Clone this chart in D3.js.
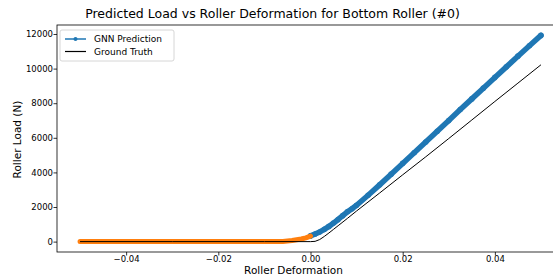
<!DOCTYPE html>
<html>
<head>
<meta charset="utf-8">
<script src="https://cdn.jsdelivr.net/npm/d3@7"></script>
<style>
  body { margin: 0; background: #fff; }
  svg { display: block; font-family: "DejaVu Sans", sans-serif; }
</style>
</head>
<body>
<svg id="chart" width="553" height="277"></svg>
<script>
// deformation / load values
var gtDef  = [-0.05, -0.03, -0.01, 0.0, 0.001, 0.002, 0.003, 0.004, 0.005, 0.006, 0.008, 0.010, 0.015, 0.020, 0.025, 0.030, 0.035, 0.040, 0.045, 0.050];
var gtLoad = [0, 0, 0, 0, 15, 120, 300, 500, 710, 920, 1340, 1770, 2810, 3860, 4900, 5960, 7030, 8100, 9160, 10220];

// prediction for positive deformation
var gnnDef  = [0.0, 0.001, 0.002, 0.003, 0.004, 0.005, 0.006, 0.007, 0.008, 0.009, 0.010, 0.0125, 0.015, 0.0175, 0.020, 0.0225, 0.025, 0.0275, 0.030, 0.0325, 0.035, 0.0375, 0.040, 0.0425, 0.045, 0.0475, 0.050];
var gnnLoad = [330, 440, 560, 710, 880, 1070, 1280, 1500, 1720, 1900, 2100, 2680, 3280, 3900, 4520, 5140, 5760, 6380, 7000, 7630, 8250, 8870, 9490, 10100, 10720, 11320, 11920];

// prediction for negative deformation (orange)
var negDef  = [-0.05, -0.04, -0.03, -0.02, -0.01, -0.006, -0.004, -0.002, -0.001, 0.0];
var negLoad = [0, 0, 0, 0, 0, 10, 60, 150, 220, 320];

var xTicks = [-0.04, -0.02, 0.00, 0.02, 0.04];
var yTicks = [0, 2000, 4000, 6000, 8000, 10000, 12000];

var svg = d3.select("#chart");
var mLeft = 57, mRight = 564, mTop = 25, mBottom = 252;

var x = d3.scaleLinear().domain([-0.055, 0.055]).range([mLeft, mRight]);
var y = d3.scaleLinear().domain([-600, 12520]).range([mBottom, mTop]);

// axes
var xAxis = svg.append("g")
  .attr("transform", "translate(0," + mBottom + ")")
  .call(d3.axisBottom(x).tickValues(xTicks).tickFormat(d3.format(".2f")).tickSizeOuter(0).tickSize(3.5));
var yAxis = svg.append("g")
  .attr("transform", "translate(" + mLeft + ",0)")
  .call(d3.axisLeft(y).tickValues(yTicks).tickFormat(d3.format("d")).tickSizeOuter(0).tickSize(3.5).tickPadding(0.5));
[xAxis, yAxis].forEach(function(a) {
  a.selectAll("text").style("font-size", "8.5px").attr("fill", "#000")
    .style("font-family", "DejaVu Sans, sans-serif");
  a.selectAll("line").attr("stroke", "#000").attr("stroke-width", 0.8);
  a.select(".domain").remove();
});
xAxis.selectAll("text").attr("y", 4)
  .text(function(d) { return d3.format(".2f")(d).replace("-", "\u2212"); });

// spines
svg.append("rect").attr("x", mLeft).attr("y", mTop)
  .attr("width", mRight - mLeft).attr("height", mBottom - mTop)
  .attr("fill", "none").attr("stroke", "#000").attr("stroke-width", 0.8);

svg.append("clipPath").attr("id", "clip").append("rect")
  .attr("x", mLeft).attr("y", mTop).attr("width", mRight - mLeft).attr("height", mBottom - mTop);
var plot = svg.append("g").attr("clip-path", "url(#clip)");

var line = d3.line().x(function(d) { return x(d[0]); }).y(function(d) { return y(d[1]); });

var gnn = d3.zip(gnnDef, gnnLoad);
plot.append("path").datum(gnn).attr("d", line)
  .attr("fill", "none").attr("stroke", "#1f77b4").attr("stroke-width", 5.5)
  .attr("stroke-linejoin", "round").attr("stroke-linecap", "round");
plot.selectAll("circle.gnn").data(gnn).enter().append("circle")
  .attr("class", "gnn").attr("cx", function(d) { return x(d[0]); })
  .attr("cy", function(d) { return y(d[1]); }).attr("r", 2.8).attr("fill", "#1f77b4");

var neg = d3.zip(negDef, negLoad);
plot.append("path").datum(neg).attr("d", line)
  .attr("fill", "none").attr("stroke", "#ff7f0e").attr("stroke-width", 5)
  .attr("stroke-linejoin", "round").attr("stroke-linecap", "round");

plot.append("path").datum(d3.zip(gtDef, gtLoad)).attr("d", line)
  .attr("fill", "none").attr("stroke", "#000").attr("stroke-width", 1);

// legend
var lg = svg.append("g");
lg.append("rect").attr("x", 60).attr("y", 30).attr("width", 114).attr("height", 31)
  .attr("rx", 2).attr("fill", "#fff").attr("fill-opacity", 0.8)
  .attr("stroke", "#ccc").attr("stroke-width", 0.8);
lg.append("line").attr("x1", 65).attr("x2", 86).attr("y1", 39).attr("y2", 39)
  .attr("stroke", "#1f77b4").attr("stroke-width", 1.5);
lg.append("circle").attr("cx", 75.5).attr("cy", 39).attr("r", 2).attr("fill", "#1f77b4");
lg.append("line").attr("x1", 65).attr("x2", 86).attr("y1", 51.5).attr("y2", 51.5)
  .attr("stroke", "#000").attr("stroke-width", 1.2);
lg.append("text").attr("x", 94).attr("y", 42.2).style("font-size", "9px").text("GNN Prediction");
lg.append("text").attr("x", 94).attr("y", 54.7).style("font-size", "9px").text("Ground Truth");

// titles
svg.append("text").attr("x", 272.5).attr("y", 17.5).attr("text-anchor", "middle")
  .style("font-size", "12.5px").text("Predicted Load vs Roller Deformation for Bottom Roller (#0)");
svg.append("text").attr("x", 293.5).attr("y", 273.5).attr("text-anchor", "middle")
  .style("font-size", "10.5px").text("Roller Deformation");
svg.append("text").attr("transform", "translate(21,139.5) rotate(-90)").attr("text-anchor", "middle")
  .style("font-size", "10.5px").text("Roller Load (N)");
</script>
</body>
</html>
